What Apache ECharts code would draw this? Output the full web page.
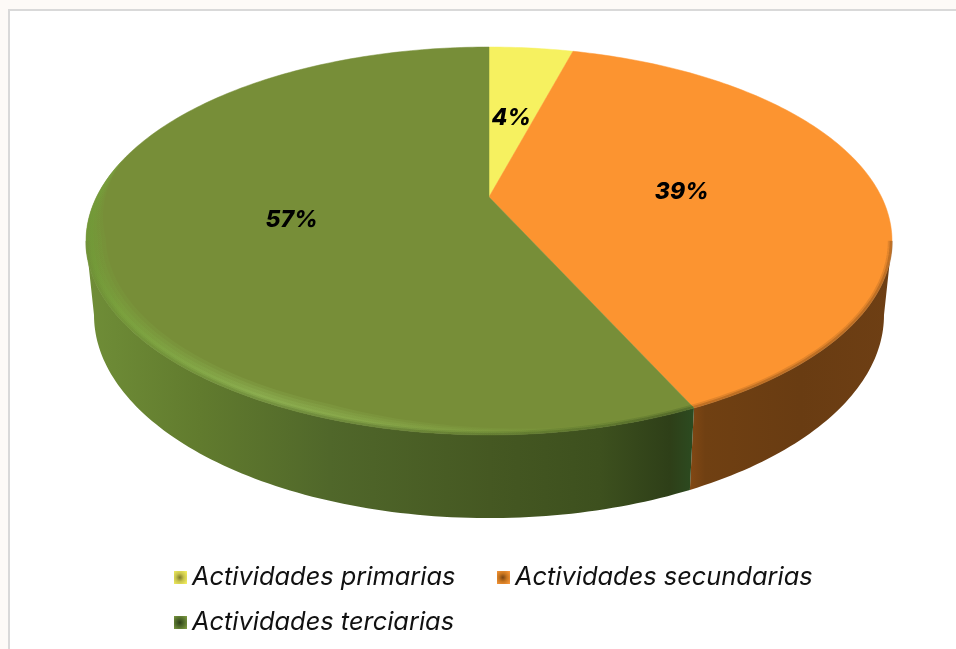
<!DOCTYPE html>
<html><head><meta charset="utf-8">
<style>html,body{margin:0;padding:0;background:#fff}#c{width:956px;height:649px}</style>
<script src="https://cdn.jsdelivr.net/npm/echarts@6/dist/echarts.min.js"></script>
</head><body><div id="c"></div>
<script>
const categories = ['Actividades primarias', 'Actividades secundarias', 'Actividades terciarias'];
const seriesValues = [4.2, 39, 56.8];
const topColors = ['#F6F160', '#FC9430', '#778E38'];

const chart = echarts.init(document.getElementById('c'));
const G = echarts.graphic;
const K = 0.2268, AX = 489, AY = 197;
const total = seriesValues.reduce((a, b) => a + b, 0);
const starts = seriesValues.map((_, i) => seriesValues.slice(0, i).reduce((a, b) => a + b, 0));
const deg = p => p / total * 360;
// perspective projection of the pie's disc
function topPt(a, r) {
  const t = a * Math.PI / 180, u = Math.sin(t) * r, v = Math.cos(t) * r, d = 1 + K * v;
  return [AX + 392.5 * u / d, AY - 184 * v / d];
}
function botPt(a) {
  const t = a * Math.PI / 180, u = Math.sin(t), v = Math.cos(t), d = 1 + K * v;
  return [AX + 384.7 * u / d, 269 - 192.6 * v / d];
}
function arc(fn, a0, a1) {
  const n = Math.max(2, Math.ceil(Math.abs(a1 - a0))), out = [];
  for (let i = 0; i <= n; i++) out.push(fn(a0 + (a1 - a0) * i / n));
  return out;
}
const grad = (stops) => new G.LinearGradient(85, 0, 892, 0, stops.map(s => ({offset: (s[0] - 85) / 807, color: s[1]})), true);
const sideFill = [
  null,
  grad([[690, '#824814'], [705, '#704012'], [800, '#693C12'], [890, '#6E3F14']]),
  grad([[90, '#6F8D37'], [200, '#617B2E'], [330, '#50672A'], [490, '#455822'], [600, '#3D501E'], [670, '#2E3F18'], [692, '#2C4A20']])
];
const rimFill = [
  null, null,
  grad([[85, '#6F9A37'], [120, '#7BA63F'], [260, '#92B757'], [400, '#8AAC4C'], [560, '#7C9B3C'], [692, '#748F38']])
];
const SIL = 103.1, RIM_END = 282;
// rim width tapers away toward the back of the disc and toward the right
const rimWidth = a => .036 * Math.min(1, Math.max(0, (RIM_END - a) / 25)) * Math.min(1, Math.max(0.3, (a - 160) / 40));

function renderItem(params, api) {
  const i = params.seriesIndex, value = api.value(0);
  const a0 = deg(starts[i]), a1 = a0 + deg(value);
  const kids = [];
  const sa = Math.max(a0, SIL), sb = Math.min(a1, 360 - SIL);
  if (sb > sa) {
    kids.push({type: 'polygon', shape: {points: arc(a => topPt(a, 1), sa, sb).concat(arc(botPt, sb, sa))},
      style: {fill: sideFill[i], stroke: null}});
  }
  kids.push({type: 'polygon', shape: {points: [[AX, AY]].concat(arc(a => topPt(a, 1), a0, a1))},
    style: {fill: topColors[i], stroke: topColors[i], lineWidth: 0.5}});
  if (rimFill[i]) {
    const ra = a0, rb = Math.min(a1, RIM_END);
    [[1, .2], [.8, .25], [.6, .3], [.4, .4]].forEach(l => {
      kids.push({type: 'polygon', shape: {points: arc(a => topPt(a, 1), ra, rb).concat(arc(a => topPt(a, 1 - rimWidth(a) * l[0] * 1.3), rb, ra))},
        style: {fill: rimFill[i], opacity: l[1]}});
    });
  }
  if (sb > sa) {
    const eb = Math.min(a1, 360 - SIL);
    [[.996, 5, .18], [.998, 3, .3]].forEach(l => kids.push({type: 'polyline',
      shape: {points: arc(a => topPt(a, l[0]), sa, eb)},
      style: {stroke: sideFill[i], lineWidth: l[1], opacity: l[2], fill: null}}));
  }
  const mid = topPt((a0 + a1) / 2, .5);
  kids.push({type: 'text', x: mid[0] - 1, y: mid[1] + 3, z2: 50, style: {
    text: Math.round(value / total * 100) + '%', align: 'center', verticalAlign: 'middle',
    font: 'italic 800 23px Inter', fill: '#000'}});
  return {type: 'group', children: kids};
}

const icon = c => new G.RadialGradient(.45, .5, .7, [{offset: 0, color: c[0]}, {offset: .45, color: c[1]}, {offset: 1, color: c[2]}]);
const iconColors = [['#7C7A2A', '#C8C44C', '#F6F160'], ['#7A4513', '#C9761F', '#FC9A3C'], ['#2E4018', '#4F6A2A', '#7F9C42']];
const legendPos = [[174, 565], [497, 565], [174, 610]];

chart.setOption({
  animation: false,
  backgroundColor: '#FDFAF7',
  graphic: [{type: 'rect', z: -10, shape: {x: 9, y: 10, width: 960, height: 660},
    style: {fill: '#fff', stroke: '#D9D9D9', lineWidth: 2}}],
  legend: categories.map((name, i) => ({
    data: [{name, itemStyle: {color: icon(iconColors[i])}}],
    left: legendPos[i][0], top: legendPos[i][1], padding: 0,
    icon: 'rect', itemWidth: 13, itemHeight: 13, selectedMode: false,
    textStyle: {fontFamily: 'Inter', fontStyle: 'italic', fontSize: 25.4, fontWeight: 400, color: '#111', padding: [0, 0, 0, 0]}
  })),
  series: categories.map((name, i) => ({
    type: 'custom', name, coordinateSystem: 'none', renderItem,
    data: [[seriesValues[i]]], itemStyle: {color: topColors[i]}, silent: true
  }))
});
</script></body></html>
